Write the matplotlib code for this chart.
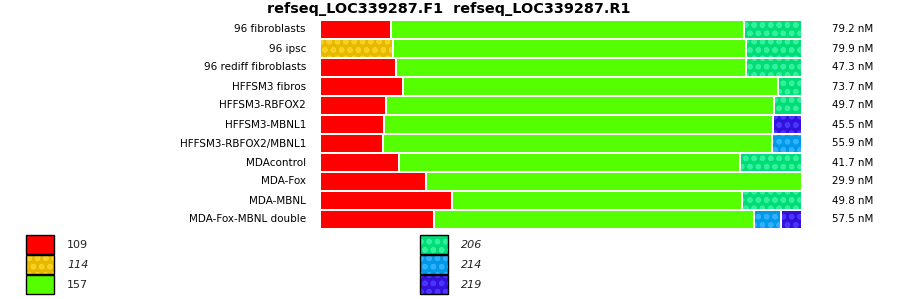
import matplotlib
matplotlib.use("Agg")
import matplotlib.pyplot as plt
from matplotlib.patches import Rectangle
from matplotlib.transforms import blended_transform_factory

title = "refseq_LOC339287.F1  refseq_LOC339287.R1"
samples = ["96 fibroblasts", "96 ipsc", "96 rediff fibroblasts", "HFFSM3 fibros",
           "HFFSM3-RBFOX2", "HFFSM3-MBNL1", "HFFSM3-RBFOX2/MBNL1", "MDAcontrol",
           "MDA-Fox", "MDA-MBNL", "MDA-Fox-MBNL double"]
concentrations = ["79.2 nM", "79.9 nM", "47.3 nM", "73.7 nM", "49.7 nM", "45.5 nM",
                  "55.9 nM", "41.7 nM", "29.9 nM", "49.8 nM", "57.5 nM"]
categories = ["109", "114", "157", "206", "214", "219"]
s109 = [14.7, 0, 15.8, 17.2, 13.7, 13.3, 13.1, 16.4, 22.0, 27.4, 23.7]
s114 = [0, 15.1, 0, 0, 0, 0, 0, 0, 0, 0, 0]
s157 = [73.2, 73.2, 72.6, 77.8, 80.5, 80.7, 80.7, 70.7, 78.0, 60.2, 66.4]
s206 = [12.0, 11.6, 11.6, 5.0, 5.8, 0, 0, 12.9, 0, 12.4, 0]
s214 = [0, 0, 0, 0, 0, 0, 6.2, 0, 0, 0, 5.6]
s219 = [0, 0, 0, 0, 0, 6.0, 0, 0, 0, 0, 4.4]
series = [s109, s114, s157, s206, s214, s219]

base_colors = ["#ff0000", "#e6b800", "#55ff00", "#00dd77", "#0099e6", "#3311dd"]
dot_colors = [None, "#f8d020", None, "#33f09a", "#30b0ff", "#4a35ff"]
italic = [False, True, False, True, True, True]

plt.rcParams['hatch.linewidth'] = 1.6
W, H = 900, 299
fig = plt.figure(figsize=(W / 100, H / 100), dpi=100)

ax = fig.add_axes([320 / W, 1 - 229 / H, 482 / W, 209 / H])
n = len(samples)
ys = list(range(n))
for i in range(n):
    left = 0.0
    for k, s in enumerate(series):
        v = s[i]
        if v <= 0:
            continue
        if dot_colors[k]:
            ax.barh(ys[i], v, left=left, height=1.0, color=base_colors[k],
                    edgecolor=dot_colors[k], linewidth=0, hatch='oo')
        else:
            ax.barh(ys[i], v, left=left, height=1.0, color=base_colors[k], linewidth=0)
        ax.barh(ys[i], v, left=left, height=1.0, fill=False, edgecolor='white', linewidth=1.45)
        left += v
ax.set_xlim(0, 100)
ax.set_ylim(n - 0.5, -0.5)
ax.axis('off')

tr = blended_transform_factory(fig.transFigure, ax.transData)
for i, lab in enumerate(samples):
    ax.text(306 / W, ys[i], lab, transform=tr, ha='right', va='center', fontsize=7.5)
    ax.text(832 / W, ys[i], concentrations[i], transform=tr, ha='left', va='center', fontsize=7.4)

fig.text(449 / W, 1 - 8.5 / H, title, ha='center', va='center', fontsize=10.4, fontweight='bold')

# legend
lax = fig.add_axes([0, 0, 1, 1])
lax.set_xlim(0, W)
lax.set_ylim(H, 0)
lax.axis('off')
for k, cat in enumerate(categories):
    col = k // 3
    row = k % 3
    x0 = 26 if col == 0 else 420
    y0 = 235 + row * 20
    if dot_colors[k]:
        lax.add_patch(Rectangle((x0, y0), 28, 19, facecolor=base_colors[k],
                                edgecolor=dot_colors[k], linewidth=0, hatch='oo'))
    else:
        lax.add_patch(Rectangle((x0, y0), 28, 19, facecolor=base_colors[k], linewidth=0))
    lax.add_patch(Rectangle((x0, y0), 28, 19, fill=False, edgecolor='black', linewidth=1.0))
    lax.text(x0 + 41, y0 + 10, cat, ha='left', va='center', fontsize=8,
             fontstyle='italic' if italic[k] else 'normal', color='#222222')

fig.savefig("out.png", dpi=100)
